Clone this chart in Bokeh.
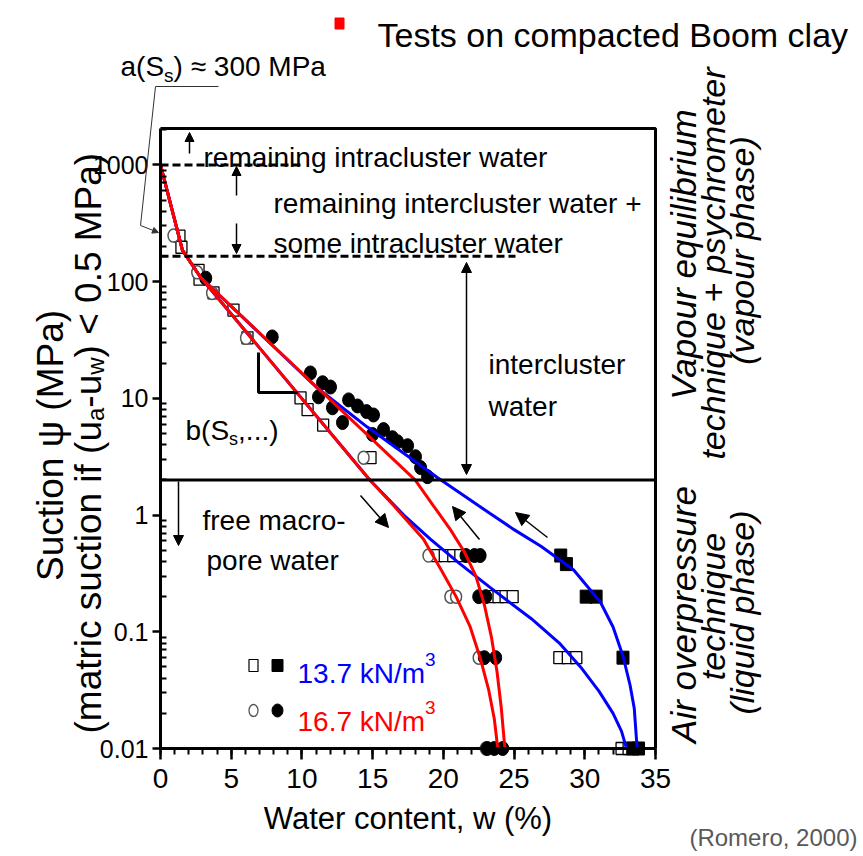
import math
from bokeh.plotting import figure
from bokeh.models import (Label, Arrow, NormalHead, FixedTicker, CustomJSTickFormatter,
                          Range1d)
from bokeh.embed import file_html
from bokeh.resources import INLINE

# ---------------- data ----------------
x_ticks = [0, 5, 10, 15, 20, 25, 30, 35]
x_minor = list(range(0, 36))
y_ticks = [0.01, 0.1, 1, 10, 100, 1000]
y_minor = [m * 10.0 ** k for k in range(-2, 4) for m in range(2, 10) if m * 10.0 ** k < 2050]

# 13.7 kN/m3 - open squares
sq_open_x = [1.34, 1.48, 2.69, 2.76, 3.75, 5.16, 6.15, 9.9, 10.4, 11.5, 14.85,
             19.5, 20.1, 20.7, 21.2, 23.3, 23.9, 24.4, 24.9, 28.2, 28.8, 29.4, 32.6, 33.1]
sq_open_y = [245, 197, 125, 105, 80, 57, 33, 10.1, 8.0, 5.9, 3.1,
             0.45, 0.45, 0.45, 0.45, 0.2, 0.2, 0.2, 0.2, 0.06, 0.06, 0.06, 0.01, 0.01]
# 13.7 kN/m3 - filled squares
sq_fill_x = [28.3, 28.7, 30.1, 30.8, 32.7, 33.4, 33.8]
sq_fill_y = [0.45, 0.38, 0.2, 0.2, 0.06, 0.01, 0.01]
# 16.7 kN/m3 - open circles
ci_open_x = [0.92, 2.6, 3.65, 6.05, 14.36, 18.95, 20.5, 20.9, 22.5, 23.0]
ci_open_y = [248, 120, 80, 33, 3.1, 0.45, 0.2, 0.2, 0.06, 0.01]
# 16.7 kN/m3 - filled circles
ci_fill_x = [3.2, 7.9, 10.6, 11.46, 12.02, 11.17, 12.16, 12.87, 13.3, 13.93, 14.57, 15.06,
             14.99, 15.77, 16.4, 16.76, 17.47, 18.03, 18.39, 18.88,
             21.6, 22.2, 22.6, 22.5, 23.0, 22.9, 23.7, 23.1, 23.6, 24.2]
ci_fill_y = [107, 33.6, 16.5, 13.6, 12.5, 10.3, 8.3, 6.2, 9.7, 8.6, 7.7, 7.2,
             4.9, 5.4, 4.6, 4.25, 3.93, 3.16, 2.55, 2.13,
             0.45, 0.45, 0.45, 0.2, 0.2, 0.06, 0.06, 0.01, 0.01, 0.01]

# fitted curves
red_wet_x = [0, 1.55, 2.83, 18.0, 19.3, 20.5, 21.5, 22.3, 22.9, 23.4, 23.8, 24.1, 24.35]
red_wet_y = [1000, 186, 109, 2.0, 1.2, 0.75, 0.48, 0.3, 0.17, 0.09, 0.045, 0.022, 0.01]
red_dry_x = [0, 1.55, 2.83, 14.8, 16.5, 18.6, 19.9, 20.9, 21.9, 22.6, 23.2, 23.6, 23.85]
red_dry_y = [1000, 186, 109, 2.0, 1.2, 0.62, 0.33, 0.2, 0.11, 0.06, 0.032, 0.018, 0.01]
blue_wet_x = [0, 1.55, 2.83, 8.1, 11.0, 14.6, 19.6, 22.5, 25.0, 26.9, 29.2, 31.1, 32.0,
              32.7, 33.2, 33.5, 33.7]
blue_wet_y = [1000, 186, 109, 27, 12.5, 5.7, 2.09, 1.2, 0.75, 0.54, 0.34, 0.18, 0.11,
              0.062, 0.035, 0.022, 0.01]
blue_dry_x = [0, 1.55, 2.83, 14.8, 17.2, 19.1, 21.2, 23.3, 26.2, 28.2, 29.7, 31.0, 32.0,
              32.6, 32.95]
blue_dry_y = [1000, 186, 109, 2.0, 1.0, 0.62, 0.38, 0.24, 0.13, 0.08, 0.05, 0.031, 0.02,
              0.014, 0.01]

# zone boundaries
dashed_levels = [1000, 165]
dashed_ends = [10.1, 25.1]
boundary_level = 2.0

# axis extents of the plotted box
X_MIN, X_MAX = 0, 35
Y_MIN, Y_MAX = 0.01, 2050

# ---------------- page geometry (pixels on the page) ----------------
BOX_L, BOX_R, BOX_T, BOX_B = 160, 655, 128, 748
CAN_L, CAN_T, CAN_W, CAN_H = 0, 0, 862, 854
LOGSPAN = math.log10(Y_MAX / Y_MIN)


def px2x(px):
    return X_MIN + (px - BOX_L) / (BOX_R - BOX_L) * (X_MAX - X_MIN)


def py2y(py):
    return 10 ** (math.log10(Y_MIN) + (BOX_B - py) / (BOX_B - BOX_T) * LOGSPAN)


FONT = "Liberation Sans"

p = figure(width=CAN_W, height=CAN_H,
           x_range=Range1d(px2x(CAN_L), px2x(CAN_L + CAN_W)),
           y_range=Range1d(py2y(CAN_T + CAN_H), py2y(CAN_T)),
           y_axis_type="log", output_backend="svg", toolbar_location=None,
           min_border=0, min_border_left=0, min_border_right=0, min_border_top=0,
           min_border_bottom=0)
p.xgrid.visible = False
p.ygrid.visible = False
p.outline_line_color = None
p.background_fill_color = "white"
p.border_fill_color = "white"

xa = p.xaxis[0]
xa.fixed_location = Y_MIN
xa.bounds = (X_MIN, X_MAX)
xa.ticker = FixedTicker(ticks=x_ticks, minor_ticks=x_minor)
xa.axis_line_width = 3
xa.major_tick_line_width = 2.5
xa.major_tick_out = 11
xa.major_tick_in = 0
xa.minor_tick_line_width = 2
xa.minor_tick_out = 6
xa.minor_tick_in = 0
xa.major_label_text_font = FONT
xa.major_label_text_font_size = "28px"
xa.major_label_text_color = "black"
xa.major_label_standoff = 9
xa.axis_label = "Water content, w (%)"
xa.axis_label_text_font = FONT
xa.axis_label_text_font_size = "31px"
xa.axis_label_text_font_style = "normal"
xa.axis_label_text_color = "black"
xa.axis_label_standoff = 10

ya = p.yaxis[0]
ya.fixed_location = X_MIN
ya.bounds = (Y_MIN, Y_MAX)
ya.ticker = FixedTicker(ticks=y_ticks, minor_ticks=y_minor)
ya.formatter = CustomJSTickFormatter(code="return tick < 1 ? tick.toString() : tick.toFixed(0);")
ya.axis_line_width = 3
ya.major_tick_line_width = 2.5
ya.major_tick_out = 8
ya.major_tick_in = 0
ya.minor_tick_line_width = 2
ya.minor_tick_out = 0
ya.minor_tick_in = 6
ya.major_label_text_font = FONT
ya.major_label_text_font_size = "25px"
ya.major_label_text_color = "black"
ya.major_label_standoff = 4

# box: top and right edges
p.line([X_MIN, X_MAX, X_MAX], [Y_MAX, Y_MAX, Y_MIN], line_color="black", line_width=3)

# ---------------- marks ----------------
p.rect(x=sq_open_x, y=sq_open_y, width=11, height=12, width_units="screen",
       height_units="screen", fill_color="white", line_color="black", line_width=1.3)
p.ellipse(x=ci_open_x, y=ci_open_y, width=11, height=13, width_units="screen",
          height_units="screen", fill_color="white", line_color="#555555", line_width=1.5)
p.rect(x=sq_fill_x, y=sq_fill_y, width=12, height=13, width_units="screen",
       height_units="screen", fill_color="black", line_color="black")
p.ellipse(x=ci_fill_x, y=ci_fill_y, width=12, height=14, width_units="screen",
          height_units="screen", fill_color="black", line_color="black")

p.line(blue_dry_x, blue_dry_y, line_color="#0000ff", line_width=3)
p.line(blue_wet_x, blue_wet_y, line_color="#0000ff", line_width=3)
p.line(red_dry_x, red_dry_y, line_color="#ff0000", line_width=3)
p.line(red_wet_x, red_wet_y, line_color="#ff0000", line_width=3)

p.segment(x0=[X_MIN] * len(dashed_levels), y0=dashed_levels, x1=dashed_ends,
          y1=dashed_levels, line_color="black", line_width=3, line_dash="8 4")
p.line([X_MIN, X_MAX], [boundary_level, boundary_level], line_color="black", line_width=3)

# ---------------- annotations (placed in page pixels) ----------------
AW = {' ': 278, '(': 333, ')': 333, '+': 584, ',': 278, '-': 333, '.': 278, '/': 278,
      '<': 584, '≈': 549, '%': 889, 'M': 833, 'N': 722, 'P': 667, 'S': 667,
      'a': 556, 'b': 556, 'c': 500, 'e': 556, 'f': 278, 'i': 222, 'k': 500, 'm': 833,
      'n': 556, 'o': 556, 'r': 333, 's': 500, 't': 278, 'u': 556, 'w': 722}


def tw(s, size):
    return sum(AW.get(c, 556) for c in s) / 1000 * size


def lab(px, py, text, size, color="black", align="left", baseline="alphabetic",
        angle=0.0, style="normal"):
    p.add_layout(Label(x=px2x(px), y=py2y(py), text=text, text_font=FONT,
                       text_font_size=f"{size}px", text_color=color, text_align=align,
                       text_baseline=baseline, angle=angle, text_font_style=style))


def arrow(x0, y0, x1, y1, head=10, width=1.5, color="black", both=False, nohead=False):
    end = None if nohead else NormalHead(size=head, fill_color=color, line_color=color,
                                         line_width=1)
    start = NormalHead(size=head, fill_color=color, line_color=color,
                       line_width=1) if both else None
    p.add_layout(Arrow(x_start=px2x(x0), y_start=py2y(y0), x_end=px2x(x1), y_end=py2y(y1),
                       end=end, start=start, line_color=color, line_width=width))


TS = 28  # body text size

# zone texts
lab(203, 157, "remaining intracluster water", TS)
lab(273, 203, "remaining intercluster water +", TS)
lab(273, 243, "some intracluster water", TS)
lab(488, 364, "intercluster", TS)
lab(488, 406, "water", TS)
lab(202, 520, "free macro-", TS)
lab(206, 560, "pore water", TS)

# b(Ss,...)
bx = 185
lab(bx, 430, "b(S", TS)
bx += tw("b(S", TS)
lab(bx, 438, "s", 18)
bx += tw("s", 18)
lab(bx, 430, ",...)", TS)

# a(Ss) ~ 300 MPa
ax_ = 120
lab(ax_, 66, "a(S", TS)
ax_ += tw("a(S", TS)
lab(ax_, 75, "s", 19)
ax_ += tw("s", 19)
lab(ax_, 66, ") ≈ 300 MPa", TS)

# leader line of a(Ss)
arrow(218, 86, 155, 86, width=1, color="#333333", nohead=True)
arrow(155, 86, 140, 225, width=1, color="#333333", nohead=True)
arrow(140, 225, 158, 232, head=6, width=1, color="#333333")

# vertical arrows
arrow(189, 153, 189, 132, head=9)
arrow(236, 195, 236, 166, head=9)
arrow(236, 223, 236, 253, head=9)
arrow(466, 262, 466, 474, head=10, both=True)
arrow(178, 481, 178, 545, head=10)
# wetting / drying arrows
arrow(360, 495, 388, 527, head=13)
arrow(479, 539, 452, 506, head=13)
arrow(547, 537, 515, 512, head=13)

# slope triangle
p.line([px2x(258), px2x(258), px2x(297)], [py2y(352), py2y(392), py2y(392)],
       line_color="black", line_width=3)

# legend
p.rect(x=[px2x(253)], y=[py2y(665)], width=9, height=12, width_units="screen",
       height_units="screen", fill_color="white", line_color="black", line_width=1.2)
p.rect(x=[px2x(277)], y=[py2y(665)], width=11, height=12, width_units="screen",
       height_units="screen", fill_color="black", line_color="black")
p.ellipse(x=[px2x(253)], y=[py2y(710)], width=9, height=12, width_units="screen",
          height_units="screen", fill_color="white", line_color="#555555", line_width=1.3)
p.ellipse(x=[px2x(277)], y=[py2y(710)], width=11, height=13, width_units="screen",
          height_units="screen", fill_color="black", line_color="black")
lab(297, 673, "13.7 kN/m", TS, color="#0000ff")
lab(297 + tw("13.7 kN/m", TS), 659, "3", 19, color="#0000ff")
lab(297, 721, "16.7 kN/m", TS, color="#ff0000")
lab(297 + tw("16.7 kN/m", TS), 707, "3", 19, color="#ff0000")

# title and source
p.rect(x=[px2x(339)], y=[py2y(23)], width=9, height=11, width_units="screen",
       height_units="screen", fill_color="#ff0000", line_color="#ff0000")
lab(377, 34, "Tests on compacted Boom clay", 34)
lab(857, 837, "(Romero, 2000)", 24, color="#595959", align="right")

# y axis title (rotated, two lines)
HALF_PI = math.pi / 2
lab(50, 445, "Suction ψ (MPa)", 37, align="center", angle=HALF_PI)
yy = 733
for txt, sz, xb in [("(matric suction if (u", 37, 88), ("a", 24, 95), ("-u", 37, 88),
                    ("w", 24, 95), (") < 0.5 MPa)", 37, 88)]:
    lab(xb, yy, txt, sz, angle=HALF_PI)
    yy -= tw(txt, sz)

# right-hand technique labels
for cx, cy, sz, txt in [(683, 254, 35, "Vapour equilibrium"),
                        (712, 263, 34, "technique + psychrometer"),
                        (741, 250, 34, "(vapour phase)"),
                        (683, 614, 35, "Air overpressure"),
                        (712, 606, 34, "technique"),
                        (741, 612, 34, "(liquid phase)")]:
    lab(cx, cy, txt, sz, align="center", baseline="middle", angle=HALF_PI,
        style="italic")

open("out.html", "w").write(file_html(p, INLINE, title="Boom clay retention"))
